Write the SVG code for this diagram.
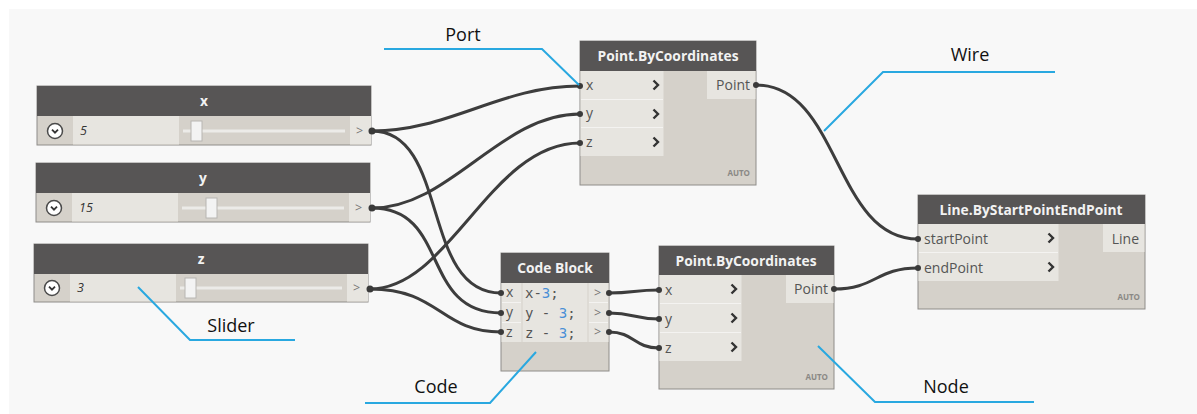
<svg xmlns="http://www.w3.org/2000/svg" xmlns:xlink="http://www.w3.org/1999/xlink" width="1197" height="414" viewBox="0 0 1197 414">
  <style>
    .hdr { fill: #575555; }
    .body { fill: #d5d1ca; stroke: #8e8c89; stroke-width: 1; }
    .row { fill: #e7e5e0; }
    .sep { stroke: #f4f3f1; stroke-width: 1; }
    .title { font-family: "Open Sans", "Noto Sans", sans-serif; font-weight: bold; font-size: 13.8px; fill: #f2f2f2; text-anchor: middle; }
    .port { font-family: "Open Sans", "Noto Sans", sans-serif; font-size: 14px; fill: #555; }
    .auto { font-family: "Open Sans", "Noto Sans", sans-serif; font-weight: bold; font-size: 8px; fill: #8a8885; text-anchor: end; }
    .val { font-family: "Open Sans", "Noto Sans", sans-serif; font-style: italic; font-size: 12.5px; fill: #333; }
    .gt { font-family: "Open Sans", "Noto Sans", sans-serif; font-size: 12.5px; fill: #777; }
    .code { font-family: "DejaVu Sans Mono", "Liberation Mono", monospace; font-size: 14px; fill: #555; }
    .num { fill: #4a8fd6; }
    .wire { fill: none; stroke: #3d3d3d; stroke-width: 3; stroke-linecap: round; }
    .nub { fill: #3a3a3a; }
    .note { fill: none; stroke: #29a8e0; stroke-width: 2; }
    .label { font-family: "Open Sans", "Noto Sans", sans-serif; font-size: 18px; fill: #111; text-anchor: middle; }
    .chev { fill: none; stroke: #333; stroke-width: 2.4; stroke-linejoin: miter; }
    .track { stroke: #ecebe8; stroke-width: 3; }
    .thumb { fill: #f3f3f3; stroke: #b8b6b2; stroke-width: 1; }
  </style>
  <defs>
    <polyline id="chevron" points="-2.5,-4.5 2,0 -2.5,4.5" class="chev"/>
    <g id="dropbtn">
      <circle r="7.5" fill="#ffffff" stroke="#4a4a4a" stroke-width="1.5"/>
      <polyline points="-3,-1.3 0,1.7 3,-1.3" fill="none" stroke="#333" stroke-width="1.8"/>
    </g>
  </defs>

  <!-- canvas -->
  <rect x="0" y="0" width="1197" height="414" fill="#ffffff"/>
  <rect x="9" y="9" width="1188" height="405" fill="#f8f8f8"/>

  <!-- slider x -->
  <g id="slider-x">
    <rect x="37" y="86" width="334" height="59" class="body"/>
    <rect x="37" y="86" width="334" height="30" class="hdr"/>
    <rect x="73" y="116" width="106" height="28.5" class="row"/>
    <rect x="350" y="116" width="21" height="28.5" class="row"/>
    <line x1="183" y1="131" x2="345" y2="131" class="track"/>
    <rect x="191" y="121" width="11" height="20" class="thumb"/>
    <use xlink:href="#dropbtn" x="55" y="131"/>
    <text x="204" y="106" class="title">x</text>
    <text x="80" y="135" class="val">5</text>
    <text x="356" y="135" class="gt">&gt;</text>
  </g>

  <!-- slider y -->
  <g id="slider-y">
    <rect x="36" y="163" width="334" height="59" class="body"/>
    <rect x="36" y="163" width="334" height="30" class="hdr"/>
    <rect x="72" y="193" width="106" height="28.5" class="row"/>
    <rect x="349" y="193" width="21" height="28.5" class="row"/>
    <line x1="182" y1="208" x2="344" y2="208" class="track"/>
    <rect x="206" y="198" width="11" height="20" class="thumb"/>
    <use xlink:href="#dropbtn" x="54" y="208"/>
    <text x="203" y="183" class="title">y</text>
    <text x="79" y="212" class="val">15</text>
    <text x="355" y="212" class="gt">&gt;</text>
  </g>

  <!-- slider z -->
  <g id="slider-z">
    <rect x="34" y="244" width="334" height="58" class="body"/>
    <rect x="34" y="244" width="334" height="30" class="hdr"/>
    <rect x="70" y="274" width="106" height="27.5" class="row"/>
    <rect x="347" y="274" width="21" height="27.5" class="row"/>
    <line x1="180" y1="288" x2="342" y2="288" class="track"/>
    <rect x="185" y="278" width="11" height="20" class="thumb"/>
    <use xlink:href="#dropbtn" x="52" y="288"/>
    <text x="201" y="264" class="title">z</text>
    <text x="77" y="292" class="val">3</text>
    <text x="353" y="292" class="gt">&gt;</text>
  </g>

  <!-- Point.ByCoordinates (upper) -->
  <g id="point-top">
    <rect x="580" y="41" width="176" height="144" class="body"/>
    <rect x="580" y="41" width="176" height="30" class="hdr"/>
    <rect x="580.5" y="71" width="83" height="85" class="row"/>
    <line x1="581" y1="99.5" x2="663" y2="99.5" class="sep"/>
    <line x1="581" y1="127.5" x2="663" y2="127.5" class="sep"/>
    <rect x="707" y="71" width="48.5" height="28" class="row"/>
    <text x="668" y="61" class="title">Point.ByCoordinates</text>
    <text x="586" y="90" class="port">x</text>
    <text x="586" y="118" class="port">y</text>
    <text x="586" y="147" class="port">z</text>
    <use xlink:href="#chevron" x="656" y="85"/>
    <use xlink:href="#chevron" x="656" y="114"/>
    <use xlink:href="#chevron" x="656" y="142"/>
    <text x="750" y="90" class="port" text-anchor="end">Point</text>
    <text x="750" y="176" class="auto">AUTO</text>
  </g>

  <!-- Code Block -->
  <g id="code-block">
    <rect x="501" y="253" width="108" height="118" class="body"/>
    <rect x="501" y="253" width="108" height="30" class="hdr"/>
    <rect x="501.5" y="283" width="20" height="59" class="row"/>
    <rect x="522.5" y="283" width="65" height="59" class="row"/>
    <rect x="588.5" y="283" width="20" height="59" class="row"/>
    <line x1="502" y1="302.5" x2="521" y2="302.5" class="sep"/>
    <line x1="502" y1="322.5" x2="521" y2="322.5" class="sep"/>
    <line x1="589" y1="302.5" x2="608" y2="302.5" class="sep"/>
    <line x1="589" y1="322.5" x2="608" y2="322.5" class="sep"/>
    <text x="555" y="273" class="title">Code Block</text>
    <text x="506" y="297" class="port">x</text>
    <text x="506" y="317" class="port">y</text>
    <text x="506" y="337" class="port">z</text>
    <text x="525" y="298" class="code">x-<tspan class="num">3</tspan>;</text>
    <text x="525" y="318" class="code">y - <tspan class="num">3</tspan>;</text>
    <text x="525" y="338" class="code">z - <tspan class="num">3</tspan>;</text>
    <text x="594" y="297" class="gt">&gt;</text>
    <text x="594" y="317" class="gt">&gt;</text>
    <text x="594" y="336" class="gt">&gt;</text>
  </g>

  <!-- Point.ByCoordinates (lower) -->
  <g id="point-bottom">
    <rect x="659" y="246" width="175" height="143" class="body"/>
    <rect x="659" y="246" width="175" height="29" class="hdr"/>
    <rect x="659.5" y="275" width="82" height="86" class="row"/>
    <line x1="660" y1="303.5" x2="741" y2="303.5" class="sep"/>
    <line x1="660" y1="332.5" x2="741" y2="332.5" class="sep"/>
    <rect x="786" y="275" width="47.5" height="28" class="row"/>
    <text x="746" y="266" class="title">Point.ByCoordinates</text>
    <text x="665" y="295" class="port">x</text>
    <text x="665" y="324" class="port">y</text>
    <text x="665" y="353" class="port">z</text>
    <use xlink:href="#chevron" x="734" y="289"/>
    <use xlink:href="#chevron" x="734" y="318"/>
    <use xlink:href="#chevron" x="734" y="347"/>
    <text x="828" y="294" class="port" text-anchor="end">Point</text>
    <text x="828" y="380" class="auto">AUTO</text>
  </g>

  <!-- Line.ByStartPointEndPoint -->
  <g id="line-node">
    <rect x="918" y="195" width="227" height="114" class="body"/>
    <rect x="918" y="195" width="227" height="29" class="hdr"/>
    <rect x="918.5" y="224" width="140" height="57" class="row"/>
    <line x1="919" y1="252.5" x2="1058" y2="252.5" class="sep"/>
    <rect x="1103" y="224" width="41.5" height="28" class="row"/>
    <text x="1031" y="215" class="title">Line.ByStartPointEndPoint</text>
    <text x="924" y="244" class="port">startPoint</text>
    <text x="924" y="273" class="port">endPoint</text>
    <use xlink:href="#chevron" x="1051" y="238"/>
    <use xlink:href="#chevron" x="1051" y="267"/>
    <text x="1139" y="244" class="port" text-anchor="end">Line</text>
    <text x="1140" y="300" class="auto">AUTO</text>
  </g>

  <!-- wires -->
  <g id="connectors">
    <path class="wire" d="M372,131 C450,131 500,86 580,86"/>
    <path class="wire" d="M372,131 C450,131 420,293 501,293"/>
    <path class="wire" d="M372,208 C450,208 500,114 580,114"/>
    <path class="wire" d="M372,208 C450,208 420,313 501,313"/>
    <path class="wire" d="M370,289 C450,289 490,143 580,143"/>
    <path class="wire" d="M370,289 C440,289 440,332 501,332"/>
    <path class="wire" d="M609,293 C634,293 634,290 659,290"/>
    <path class="wire" d="M609,313 C634,313 634,319 659,319"/>
    <path class="wire" d="M609,332 C634,332 634,348 659,348"/>
    <path class="wire" d="M756,85 C840,85 834,239 918,239"/>
    <path class="wire" d="M834,289 C876,289 876,268 918,268"/>
    <!-- port nubs -->
    <circle class="nub" cx="372" cy="131" r="3.5"/>
    <circle class="nub" cx="372" cy="208" r="3.5"/>
    <circle class="nub" cx="370" cy="289" r="3.5"/>
    <circle class="nub" cx="580" cy="86" r="3"/>
    <circle class="nub" cx="580" cy="114" r="3"/>
    <circle class="nub" cx="580" cy="143" r="3"/>
    <circle class="nub" cx="501" cy="293" r="3"/>
    <circle class="nub" cx="501" cy="313" r="3"/>
    <circle class="nub" cx="501" cy="332" r="3"/>
    <circle class="nub" cx="609" cy="293" r="3"/>
    <circle class="nub" cx="609" cy="313" r="3"/>
    <circle class="nub" cx="609" cy="332" r="3"/>
    <circle class="nub" cx="659" cy="290" r="3"/>
    <circle class="nub" cx="659" cy="319" r="3"/>
    <circle class="nub" cx="659" cy="348" r="3"/>
    <circle class="nub" cx="756" cy="85" r="3"/>
    <circle class="nub" cx="834" cy="289" r="3"/>
    <circle class="nub" cx="918" cy="239" r="3"/>
    <circle class="nub" cx="918" cy="268" r="3"/>
  </g>

  <!-- callouts -->
  <g id="callout-port">
    <polyline class="note" points="384,49 542,49 579,85"/>
    <text x="463" y="41" class="label">Port</text>
  </g>
  <g id="callout-wire">
    <polyline class="note" points="824,131 883,72 1055,72"/>
    <text x="970" y="61" class="label">Wire</text>
  </g>
  <g id="callout-slider">
    <polyline class="note" points="138,287 190,340 295,340"/>
    <text x="231" y="332" class="label">Slider</text>
  </g>
  <g id="callout-code">
    <polyline class="note" points="536,352 490,403 365,403"/>
    <text x="436" y="393" class="label">Code</text>
  </g>
  <g id="callout-node">
    <polyline class="note" points="818,346 875,402 1034,402"/>
    <text x="946" y="393" class="label">Node</text>
  </g>
</svg>
